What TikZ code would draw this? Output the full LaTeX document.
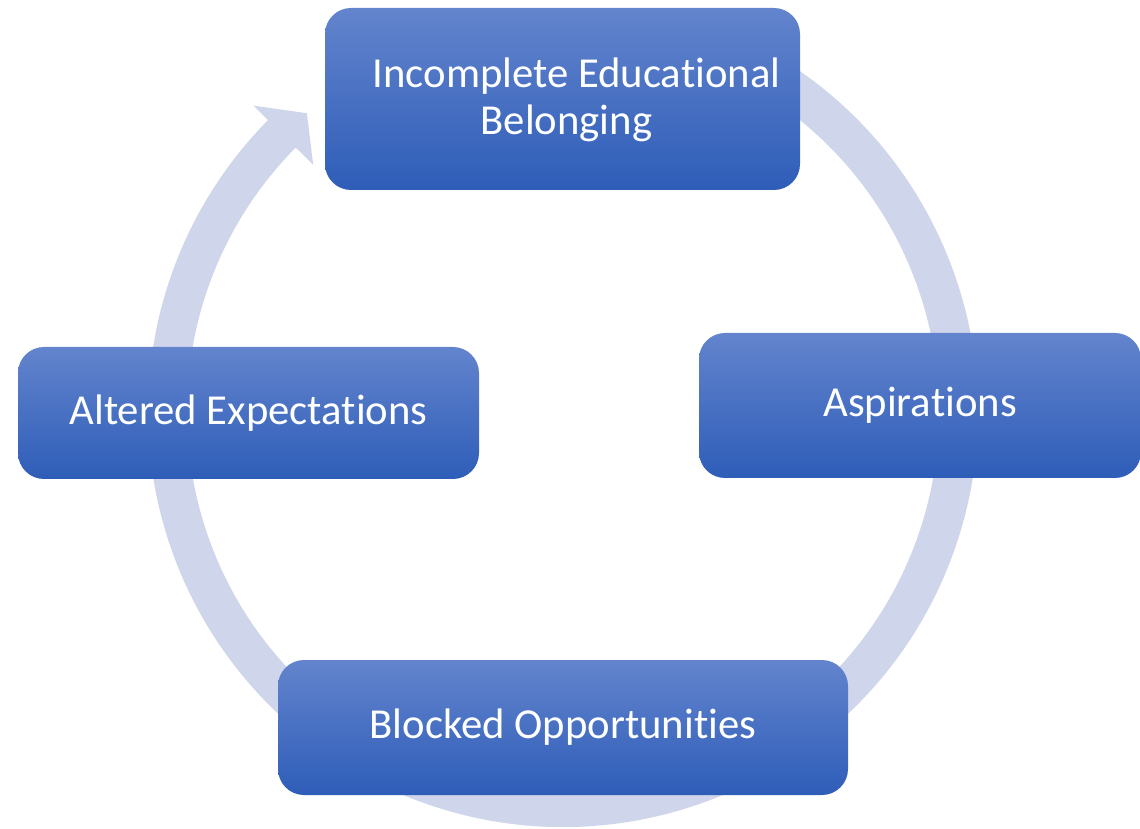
\documentclass[tikz,border=0pt]{standalone}
\usepackage{fontspec}
\setmainfont{Carlito}[Ligatures={NoCommon}]
\definecolor{ringcol}{RGB}{207,213,234}
\definecolor{boxtop}{RGB}{99,132,205}
\definecolor{boxbot}{RGB}{46,93,184}
\tikzset{
  cyclebox/.style={rectangle, rounded corners=26pt, top color=boxtop, bottom color=boxbot,
    draw=none, text=white, align=center, inner sep=0pt,
    font=\fontsize{42.7}{47.5}\selectfont},
  ring/.style={fill=ringcol}
}
\begin{document}
\begin{tikzpicture}[x=1pt,y=1pt]
  \useasboundingbox (0,0) rectangle (1140,828);
  \coordinate (ctr) at (563,416);
  % circular arrow running clockwise around the cycle
  \begin{scope}[shift={(ctr)}]
    \fill[ring] (70:415) arc[start angle=70, end angle=-224.7, radius=415]
      -- (135.3:435.6) -- (130.6:393.5) -- (135.3:351.5) -- (135.3:376)
      arc[start angle=-224.7, end angle=70, radius=376] -- cycle;
  \end{scope}
  % stages of the cycle
  \node[cyclebox, minimum width=475pt, minimum height=182pt] (belong) at (562.5,729) {};
  \node[text=white, align=center, inner sep=0pt, font=\fontsize{42.7}{47.5}\selectfont]
    (belongtext) at ([xshift=4pt,yshift=-1pt]belong.center)
    {\hspace*{20pt}Incomplete Educational\\Belonging};
  \node[cyclebox, minimum width=442pt, minimum height=145pt] (aspire) at (920,422.5) {Aspirations};
  \node[cyclebox, minimum width=570pt, minimum height=135pt] (blocked) at (563,100.5) {Blocked Opportunities};
  \node[cyclebox, minimum width=461pt, minimum height=132pt] (altered) at (248.5,415) {Altered Expectations};
\end{tikzpicture}
\end{document}
